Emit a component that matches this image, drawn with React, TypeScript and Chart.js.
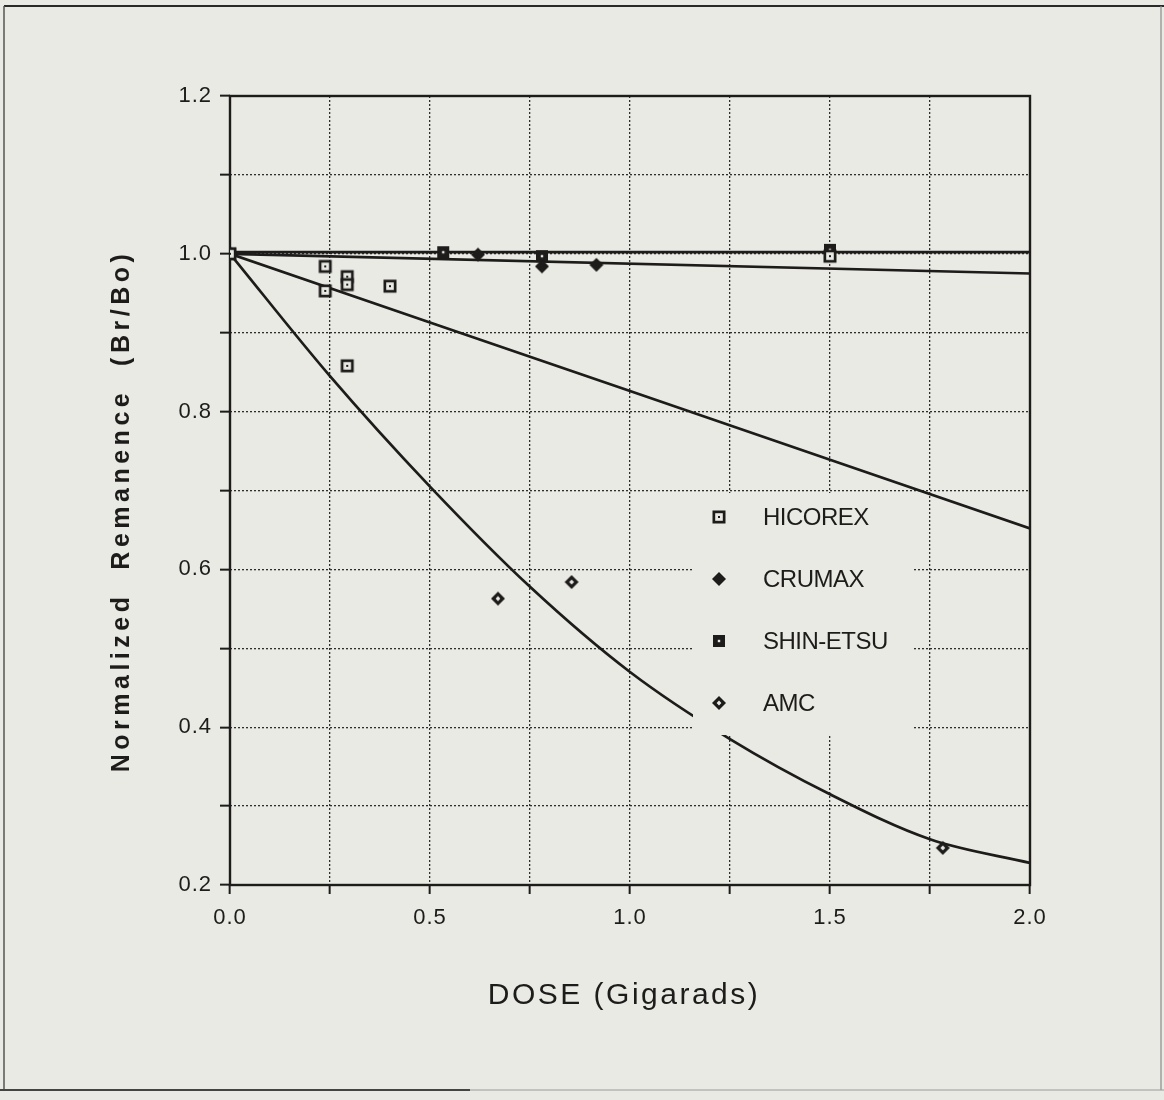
import React, { useEffect, useRef } from 'react';
import { Chart, registerables } from 'chart.js';

Chart.register(...registerables);

// ---- data ----
const seriesNames = ['HICOREX', 'CRUMAX', 'SHIN-ETSU', 'AMC'];

const hicorexX = [0, 0.238, 0.238, 0.293, 0.293, 0.4, 0.293, 1.5];
const hicorexY = [1.0, 0.984, 0.953, 0.971, 0.961, 0.959, 0.858, 0.997];

const crumaxX = [0, 0.62, 0.78, 0.916];
const crumaxY = [1.0, 0.999, 0.984, 0.986];

const shinEtsuX = [0, 0.533, 0.78, 1.5];
const shinEtsuY = [1.0, 1.002, 0.997, 1.005];

const amcX = [0, 0.67, 0.854, 1.782];
const amcY = [1.0, 0.563, 0.584, 0.247];

// fitted curves
const shinFitX = [0, 2.0];
const shinFitY = [1.002, 1.002];

const crumaxFitX = [0, 2.0];
const crumaxFitY = [1.0, 0.975];

const hicorexFitX = [0, 0.5, 1.0, 1.5, 2.0];
const hicorexFitY = [1.0, 0.913, 0.826, 0.739, 0.652];

const amcFitX = [0, 0.25, 0.5, 0.75, 1.0, 1.25, 1.5, 1.75, 2.0];
const amcFitY = [1.0, 0.845, 0.705, 0.578, 0.47, 0.385, 0.315, 0.258, 0.228];

const xTickLabels = ['0.0', '0.5', '1.0', '1.5', '2.0'];
const yTickLabels = ['0.2', '0.4', '0.6', '0.8', '1.0', '1.2'];

const xTitle = 'DOSE (Gigarads)';
const yTitle = 'Normalized  Remanence  (Br/Bo)';

// ---- style ----
const BG = '#e9eae4';
const INK = '#1e1b1b';
const FONT = "'Liberation Sans', Arial, Helvetica, sans-serif";

type MarkerKind = 'hollowSquare' | 'diamond' | 'filledSquare' | 'hollowDiamond';
const markerKinds: MarkerKind[] = ['hollowSquare', 'diamond', 'filledSquare', 'hollowDiamond'];

function makeMarker(kind: MarkerKind): HTMLCanvasElement {
  const c = document.createElement('canvas');
  c.width = 16;
  c.height = 16;
  const g = c.getContext('2d')!;
  g.fillStyle = INK;
  const diamond = (h: number) => {
    g.beginPath();
    g.moveTo(8, 8 - h);
    g.lineTo(8 + h, 8);
    g.lineTo(8, 8 + h);
    g.lineTo(8 - h, 8);
    g.closePath();
    g.fill();
  };
  if (kind === 'hollowSquare') {
    g.fillRect(1.5, 1.5, 13, 13);
    g.fillStyle = BG;
    g.fillRect(4.2, 4.2, 7.6, 7.6);
    g.fillStyle = INK;
    g.fillRect(7, 7, 2, 2);
  } else if (kind === 'filledSquare') {
    g.fillRect(2, 2, 12, 12);
    g.fillStyle = BG;
    g.fillRect(6.8, 6.8, 2.4, 2.4);
  } else if (kind === 'diamond') {
    diamond(7);
  } else {
    diamond(7);
    g.fillStyle = BG;
    diamond(2.4);
  }
  return c;
}

const pts = (xs: number[], ys: number[]) => xs.map((x, i) => ({ x, y: ys[i] }));

export default function App() {
  const ref = useRef<HTMLCanvasElement | null>(null);

  useEffect(() => {
    document.body.style.margin = '0';
    document.body.style.background = BG;
    const canvas = ref.current!;
    const markers = markerKinds.map(makeMarker);

    const pointSet = (label: string, xs: number[], ys: number[], m: HTMLCanvasElement) => ({
      label,
      data: pts(xs, ys),
      showLine: false,
      pointStyle: m,
      pointRadius: 7,
      pointHoverRadius: 7,
      borderColor: INK,
      backgroundColor: INK,
    });
    const lineSet = (label: string, xs: number[], ys: number[], smooth: boolean) => ({
      label,
      data: pts(xs, ys),
      showLine: true,
      pointRadius: 0,
      pointHoverRadius: 0,
      borderColor: INK,
      borderWidth: 2.7,
      tension: 0,
      cubicInterpolationMode: smooth ? 'monotone' : 'default',
    });

    const framePlugin = {
      id: 'frame',
      beforeDraw(chart: any) {
        const ctx = chart.ctx as CanvasRenderingContext2D;
        ctx.save();
        ctx.fillStyle = BG;
        ctx.fillRect(0, 0, chart.width, chart.height);
        ctx.strokeStyle = '#2a2a2a';
        ctx.lineWidth = 2;
        ctx.beginPath();
        ctx.moveTo(4, 6);
        ctx.lineTo(1164, 6);
        ctx.stroke();
        ctx.strokeStyle = '#555';
        ctx.lineWidth = 1.5;
        ctx.beginPath();
        ctx.moveTo(4, 6);
        ctx.lineTo(4, 1090);
        ctx.stroke();
        ctx.strokeStyle = '#8a8a8a';
        ctx.lineWidth = 1.2;
        ctx.beginPath();
        ctx.moveTo(1161, 6);
        ctx.lineTo(1161, 1090);
        ctx.stroke();
        ctx.strokeStyle = '#444';
        ctx.lineWidth = 2;
        ctx.beginPath();
        ctx.moveTo(0, 1090);
        ctx.lineTo(470, 1090);
        ctx.stroke();
        ctx.strokeStyle = '#9a9a9a';
        ctx.lineWidth = 1;
        ctx.beginPath();
        ctx.moveTo(470, 1090);
        ctx.lineTo(1164, 1090);
        ctx.stroke();
        ctx.restore();
        (ctx as any).letterSpacing = '1px';
      },
      beforeDatasetsDraw(chart: any) {
        const ctx = chart.ctx as CanvasRenderingContext2D;
        const a = chart.chartArea;
        ctx.save();
        ctx.strokeStyle = INK;
        ctx.lineWidth = 2.4;
        ctx.strokeRect(a.left, a.top, a.right - a.left, a.bottom - a.top);
        ctx.restore();
      },
      afterDatasetsDraw(chart: any) {
        const ctx = chart.ctx as CanvasRenderingContext2D;
        ctx.save();
        ctx.fillStyle = BG;
        ctx.fillRect(693, 493, 220, 242);
        ctx.fillStyle = INK;
        ctx.font = `24px ${FONT}`;
        (ctx as any).letterSpacing = '-0.5px';
        ctx.textAlign = 'left';
        ctx.textBaseline = 'middle';
        seriesNames.forEach((name, i) => {
          const y = 517 + i * 62;
          ctx.drawImage(markers[i], 719 - 8, y - 8);
          ctx.fillText(name, 763, y + 1);
        });
        ctx.restore();
      },
      afterDraw(chart: any) {
        const ctx = chart.ctx as CanvasRenderingContext2D;
        ctx.save();
        ctx.fillStyle = INK;
        ctx.textAlign = 'center';
        ctx.textBaseline = 'middle';
        ctx.font = `30px ${FONT}`;
        (ctx as any).letterSpacing = '2.5px';
        ctx.fillText(xTitle, 624, 996);
        ctx.translate(122, 511);
        ctx.rotate(-Math.PI / 2);
        ctx.font = `bold 25px ${FONT}`;
        (ctx as any).letterSpacing = '4.5px';
        ctx.fillText(yTitle, 0, 0);
        ctx.restore();
        (ctx as any).letterSpacing = '0px';
      },
    };

    const findLabel = (labels: string[], v: number) => {
      const l = labels.find((s) => Math.abs(parseFloat(s) - v) < 1e-6);
      return l === undefined ? '' : l;
    };

    const chart = new Chart(canvas, {
      type: 'scatter',
      data: {
        datasets: [
          pointSet(seriesNames[0], hicorexX, hicorexY, markers[0]),
          pointSet(seriesNames[1], crumaxX, crumaxY, markers[1]),
          pointSet(seriesNames[2], shinEtsuX, shinEtsuY, markers[2]),
          pointSet(seriesNames[3], amcX, amcY, markers[3]),
          lineSet('SHIN-ETSU fit', shinFitX, shinFitY, false),
          lineSet('CRUMAX fit', crumaxFitX, crumaxFitY, false),
          lineSet('HICOREX fit', hicorexFitX, hicorexFitY, false),
          lineSet('AMC fit', amcFitX, amcFitY, true),
        ] as any,
      },
      options: {
        responsive: false,
        animation: false,
        devicePixelRatio: 1,
        layout: { padding: { left: 0, top: 96, right: 134, bottom: 0 } },
        plugins: {
          legend: { display: false },
          tooltip: { enabled: false },
        },
        scales: {
          x: {
            type: 'linear',
            min: 0,
            max: 2,
            afterFit: (s: any) => {
              s.height = 215;
            },
            ticks: {
              stepSize: 0.25,
              autoSkip: false,
              maxRotation: 0,
              padding: 11,
              color: INK,
              font: { family: FONT, size: 22 },
              callback: (v: any) => findLabel(xTickLabels, Number(v)),
            },
            grid: {
              color: '#2e2e2e',
              lineWidth: 1.3,
              tickLength: 9,
              tickColor: INK,
              tickWidth: 2,
            },
            border: { display: false, dash: [2, 2] },
          },
          y: {
            type: 'linear',
            min: 0.2,
            max: 1.2,
            afterFit: (s: any) => {
              s.width = 230;
            },
            ticks: {
              stepSize: 0.1,
              autoSkip: false,
              padding: 8,
              color: INK,
              font: { family: FONT, size: 22 },
              callback: (v: any) => findLabel(yTickLabels, Number(v)),
            },
            grid: {
              color: '#2e2e2e',
              lineWidth: 1.3,
              tickLength: 10,
              tickColor: INK,
              tickWidth: 2,
            },
            border: { display: false, dash: [2, 2] },
          },
        },
      } as any,
      plugins: [framePlugin],
    });

    return () => {
      chart.destroy();
    };
  }, []);

  return (
    <div style={{ position: 'absolute', left: 0, top: 0, width: 1164, height: 1100, background: BG }}>
      <canvas ref={ref} width={1164} height={1100} style={{ display: 'block', width: 1164, height: 1100 }} />
    </div>
  );
}
